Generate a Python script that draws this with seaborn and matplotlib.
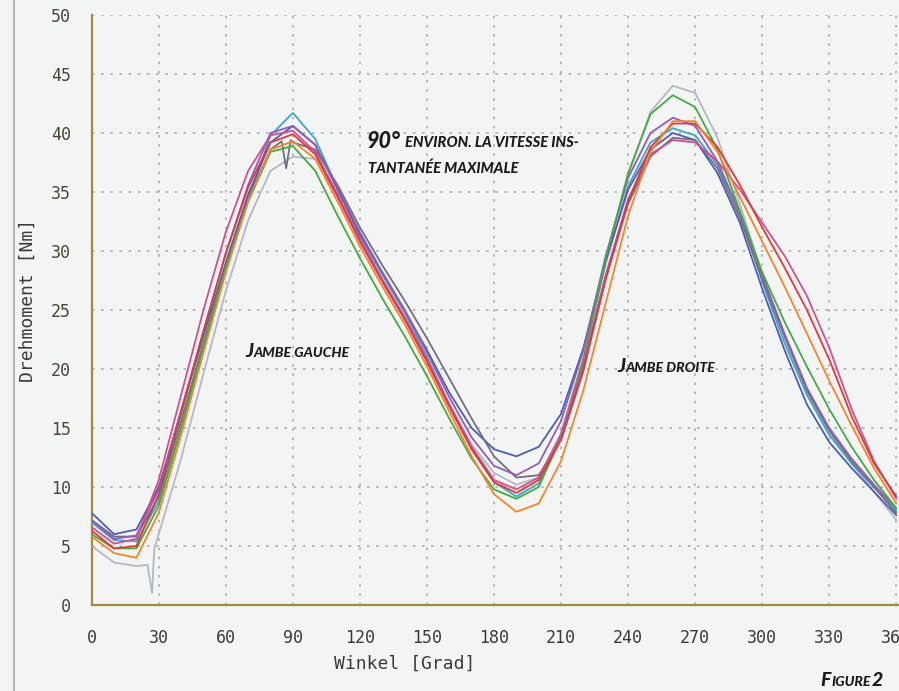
import numpy as np
import pandas as pd
import matplotlib
matplotlib.use("Agg")
import matplotlib.pyplot as plt
import seaborn as sns
from matplotlib import font_manager as fm
from matplotlib.ticker import MultipleLocator
from matplotlib.lines import Line2D

# ---------------- data ----------------
winkel = list(range(0, 361, 10))  # 0, 10, ..., 360 degrees

grau_hell = [5.0, 3.6, 3.3, 6.0, 12.4, 19.6, 26.6, 32.6, 36.8, 38.0, 37.8, 34.6, 31.0, 27.6, 24.4, 20.8, 17.0, 13.6, 11.2,
             10.2, 10.8, 14.6, 21.0, 29.4, 36.4, 41.8, 44.0, 43.4, 39.6, 34.0, 28.0, 22.6, 18.0, 14.6, 12.0, 9.6, 7.2]
grau_hell_spike_x = [25, 27, 28]
grau_hell_spike_y = [3.4, 1.0, 4.8]

cyan = [7.0, 5.5, 5.4, 8.8, 15.0, 21.8, 28.3, 34.3, 39.8, 41.7, 39.5, 35.3, 31.3, 28.0, 24.8, 21.0, 17.0, 13.2, 10.4,
        9.2, 10.3, 14.5, 20.8, 29.0, 35.5, 39.2, 40.4, 39.8, 37.3, 33.2, 27.4, 22.2, 17.8, 14.4, 12.0, 10.0, 8.0]

blau = [7.8, 6.0, 6.4, 10.0, 16.4, 22.8, 29.0, 34.8, 39.2, 40.6, 39.0, 35.2, 31.4, 28.2, 25.0, 21.6, 18.0, 15.0, 13.2,
        12.6, 13.4, 16.2, 21.8, 29.2, 35.2, 38.6, 40.0, 39.4, 36.6, 32.4, 26.8, 21.6, 17.0, 13.8, 11.6, 9.6, 7.6]

grau_dunkel = [7.2, 5.8, 5.8, 9.2, 15.6, 22.2, 28.6, 34.4, 38.6, 39.2, 38.6, 35.6, 32.0, 28.8, 25.8, 22.6, 19.2, 15.8, 12.6,
               10.8, 11.0, 14.0, 19.8, 27.8, 34.0, 38.0, 39.6, 39.4, 37.0, 32.8, 27.6, 22.8, 18.2, 14.8, 12.2, 10.0, 7.8]
grau_dunkel_spike_x = [85, 87, 89]
grau_dunkel_spike_y = [39.3, 37.0, 39.4]

violett = [7.2, 5.6, 5.9, 9.8, 16.5, 23.2, 29.8, 35.6, 40.0, 40.6, 39.0, 35.4, 31.6, 28.2, 25.0, 21.4, 17.6, 14.2, 11.8,
           11.0, 12.0, 15.6, 21.6, 29.6, 36.2, 40.0, 41.3, 40.6, 37.6, 33.2, 28.0, 23.0, 18.4, 15.0, 12.4, 10.2, 8.2]

magenta = [6.6, 5.2, 5.6, 10.6, 17.8, 25.0, 31.6, 36.8, 39.8, 40.2, 38.4, 34.8, 31.0, 27.6, 24.4, 20.8, 17.0, 13.4, 10.6,
           9.8, 10.8, 14.4, 20.4, 28.0, 34.4, 38.2, 39.4, 39.2, 37.6, 35.2, 32.4, 29.6, 26.2, 21.8, 16.6, 12.2, 9.0]

rot = [6.3, 4.8, 5.0, 9.4, 16.2, 23.2, 29.8, 35.4, 39.2, 39.9, 38.2, 34.6, 30.8, 27.4, 24.2, 20.6, 16.8, 13.2, 10.4,
       9.5, 10.6, 14.0, 20.0, 27.6, 34.2, 38.8, 40.8, 40.8, 38.8, 35.6, 32.0, 28.6, 25.0, 20.8, 16.0, 12.0, 9.2]

orange = [5.8, 4.4, 4.0, 7.8, 14.4, 21.4, 28.2, 34.2, 38.6, 39.3, 37.8, 34.2, 30.4, 27.0, 23.8, 20.2, 16.4, 12.6, 9.4,
          7.9, 8.6, 12.2, 18.2, 25.6, 33.0, 38.4, 41.0, 41.0, 38.4, 34.6, 30.8, 27.0, 23.0, 19.0, 15.2, 11.6, 8.6]

gruen = [6.0, 4.8, 4.8, 8.4, 15.0, 22.0, 28.6, 34.2, 38.4, 38.9, 36.8, 33.0, 29.4, 26.0, 22.8, 19.4, 15.8, 12.4, 9.8,
         9.0, 10.0, 14.2, 20.8, 29.4, 36.6, 41.6, 43.2, 42.2, 38.6, 33.4, 28.2, 24.0, 20.2, 16.6, 13.4, 10.6, 8.2]

x_ticks = list(range(0, 361, 30))
y_ticks = list(range(0, 51, 5))

# ---------------- long-form table ----------------
frames = []
for name, vals in [("grau_hell", grau_hell), ("cyan", cyan), ("blau", blau), ("grau_dunkel", grau_dunkel),
                   ("violett", violett), ("magenta", magenta), ("rot", rot), ("orange", orange), ("gruen", gruen)]:
    frames.append(pd.DataFrame({"Winkel": winkel, "Drehmoment": vals, "Kurve": name}))
frames.append(pd.DataFrame({"Winkel": grau_hell_spike_x, "Drehmoment": grau_hell_spike_y, "Kurve": "grau_hell"}))
frames.append(pd.DataFrame({"Winkel": grau_dunkel_spike_x, "Drehmoment": grau_dunkel_spike_y, "Kurve": "grau_dunkel"}))
df = pd.concat(frames, ignore_index=True).sort_values(["Kurve", "Winkel"])

palette = {
    "grau_hell": "#b3b8c2",
    "cyan": "#3aa8c2",
    "blau": "#4f5cb2",
    "grau_dunkel": "#707080",
    "violett": "#925cba",
    "magenta": "#d24f8e",
    "rot": "#e2383c",
    "orange": "#f3842c",
    "gruen": "#45aa3e",
}
order = ["grau_hell", "cyan", "blau", "grau_dunkel", "violett", "gruen", "magenta", "rot", "orange"]

# ---------------- fonts ----------------
sns.set_style("white")
names = {f.name for f in fm.fontManager.ttflist}
mono = "DejaVu Sans Mono" if "DejaVu Sans Mono" in names else "monospace"
ann_font = "Lato" if "Lato" in names else "DejaVu Sans"
plt.rcParams["font.family"] = [mono, "DejaVu Sans"]

W, H = 899, 691
BG = "#f3f5f5"
fig = plt.figure(figsize=(W / 100, H / 100), dpi=100, facecolor=BG)
ax = fig.add_axes([91.7 / W, 1 - 605 / H, (W - 91.7) / W, (605 - 15) / H])
ax.set_facecolor(BG)

sns.lineplot(data=df, x="Winkel", y="Drehmoment", hue="Kurve", hue_order=order, palette=palette,
             estimator=None, sort=True, linewidth=1.3, legend=False, ax=ax, zorder=3)

ax.set_xlim(0, 361.2)
ax.set_ylim(0, 50)
ax.set_xticks(x_ticks)
ax.set_yticks(y_ticks)
ax.xaxis.set_minor_locator(MultipleLocator(5))
ax.yaxis.set_minor_locator(MultipleLocator(2.5))

ax.grid(which="major", linestyle=(0, (1.5, 4)), color="#ababab", linewidth=1.2, zorder=0)
ax.grid(which="minor", visible=False)

for s in ["top", "right"]:
    ax.spines[s].set_visible(False)
for s in ["left", "bottom"]:
    ax.spines[s].set_color("#a08a3c")
    ax.spines[s].set_linewidth(1.6)

ax.tick_params(axis="y", which="major", direction="out", length=9, width=1.2, color="#5a5030",
               pad=6, labelsize=12, labelcolor="#4a4535")
ax.tick_params(axis="y", which="minor", direction="inout", length=6, width=1.2, color="#8a4a2a")
ax.tick_params(axis="x", which="major", direction="out", length=7, width=1.2, color="#4a4030",
               pad=10, labelsize=12, labelcolor="#3a3a3a")
ax.tick_params(axis="x", which="minor", direction="out", length=5, width=1.1, color="#6a3a2a")
for lab in ax.get_xticklabels() + ax.get_yticklabels():
    lab.set_fontfamily(mono)

ax.set_xlabel("Winkel [Grad]", fontsize=13, color="#3a3a3a", fontfamily=mono)
ax.set_ylabel("Drehmoment [Nm]", fontsize=13, color="#3a3a3a", fontfamily=mono)
ax.xaxis.set_label_coords((405 - 91.7) / (W - 91.7), (605 - 655) / 590)
ax.yaxis.set_label_coords((37 - 91.7) / (W - 91.7), (605 - 300) / 590)

# page border line at the left of the scan
fig.add_artist(Line2D([14 / W, 14 / W], [0, 1], color="#b5b8ba", linewidth=1.5))

# ---------------- small-caps style annotations ----------------
renderer = fig.canvas.get_renderer()


def caps(x_px, y_px, parts):
    x = x_px
    for txt, size in parts:
        t = fig.text(x / W, 1 - y_px / H, txt, fontsize=size, fontfamily=ann_font,
                     fontweight="black", fontstyle="italic", color="#1c1c1c",
                     ha="left", va="baseline", zorder=5)
        x += t.get_window_extent(renderer=renderer).width + 1


caps(367, 148, [("90°", 15.5)])
caps(405, 147, [("ENVIRON. LA VITESSE INS-", 10.6)])
caps(368, 173, [("TANTANÉE MAXIMALE", 10.6)])
caps(245, 357, [("J", 14), ("AMBE GAUCHE", 10.2)])
caps(617, 372, [("J", 14), ("AMBE DROITE", 10.2)])
caps(820, 686, [("F", 14), ("IGURE", 10.2), ("2", 14)])

fig.savefig("out.png", dpi=100, facecolor=BG)
